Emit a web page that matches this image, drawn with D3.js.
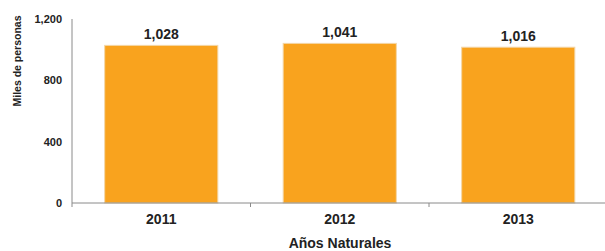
<!DOCTYPE html>
<html>
    <head>
        <style>
            body { margin: 0; background: #fff; }
            svg text { font-family: "Liberation Sans", Arial, sans-serif; font-weight: bold; fill: #222; }
        </style>
        <script src="https://cdnjs.cloudflare.com/ajax/libs/d3/7.0.4/d3.min.js"></script>
    </head>
    <body>
        <div class="BarchartContainer"></div>
        <script>
            const years = ["2011", "2012", "2013"];
            const personas = [1028, 1041, 1016];
            const yTicks = [0, 400, 800, 1200];

            const w = 605;
            const h = 251;
            const padLeft = 72;
            const padRight = 607.5;
            const padTop = 19;
            const padBottom = 203;

            const svg = d3.select(".BarchartContainer")
                .append("svg")
                .attr("width", w)
                .attr("height", h);

            const xScale = d3.scaleBand()
                .domain(years)
                .range([padLeft, padRight])
                .paddingInner(0.366)
                .paddingOuter(0.183);

            const yScale = d3.scaleLinear()
                .domain([0, 1200])
                .range([padBottom, padTop]);

            // bars
            svg.selectAll("rect.bar")
                .data(years)
                .enter()
                .append("rect")
                .attr("class", "bar")
                .attr("x", d => xScale(d))
                .attr("y", (d, i) => yScale(personas[i]))
                .attr("width", xScale.bandwidth())
                .attr("height", (d, i) => padBottom - yScale(personas[i]))
                .attr("fill", "#F9A31E")
                .attr("stroke", "#F3D7A8")
                .attr("stroke-width", 1);

            // value labels
            svg.selectAll("text.val")
                .data(years)
                .enter()
                .append("text")
                .attr("class", "val")
                .attr("x", d => xScale(d) + xScale.bandwidth() / 2)
                .attr("y", (d, i) => yScale(personas[i]) - 6.5)
                .attr("text-anchor", "middle")
                .style("font-size", "14px")
                .text((d, i) => d3.format(",")(personas[i]));

            // y axis
            const yAxis = d3.axisLeft(yScale)
                .tickValues(yTicks)
                .tickSize(0)
                .tickPadding(10)
                .tickFormat(d3.format(","));
            const gy = svg.append("g")
                .attr("transform", "translate(" + padLeft + ",0)")
                .call(yAxis);
            gy.select(".domain").attr("stroke", "#8a8a8a").attr("d", "M0," + padTop + "V" + padBottom);
            gy.selectAll("text").style("font-size", "11px").attr("fill", "#222");

            // x axis: ticks at band boundaries
            const gx = svg.append("g")
                .attr("transform", "translate(0," + padBottom + ")");
            const step = xScale.step();
            const edges = years.map((d, i) => padLeft + i * step);
            gx.append("line")
                .attr("x1", padLeft).attr("x2", padRight)
                .attr("y1", 0).attr("y2", 0)
                .attr("stroke", "#8a8a8a");
            gx.selectAll("line.tick")
                .data(edges)
                .enter()
                .append("line")
                .attr("class", "tick")
                .attr("x1", d => d).attr("x2", d => d)
                .attr("y1", 0).attr("y2", 4)
                .attr("stroke", "#8a8a8a");
            gx.selectAll("text")
                .data(years)
                .enter()
                .append("text")
                .attr("x", d => xScale(d) + xScale.bandwidth() / 2)
                .attr("y", 20.5)
                .attr("text-anchor", "middle")
                .style("font-size", "14px")
                .text(d => d);

            // axis titles
            svg.append("text")
                .attr("x", 340)
                .attr("y", 248)
                .attr("text-anchor", "middle")
                .style("font-size", "14px")
                .text("Años Naturales");

            svg.append("text")
                .attr("transform", "translate(21,61) rotate(-90)")
                .attr("text-anchor", "middle")
                .style("font-size", "10.5px")
                .text("Miles de personas");
        </script>
    </body>
</html>
